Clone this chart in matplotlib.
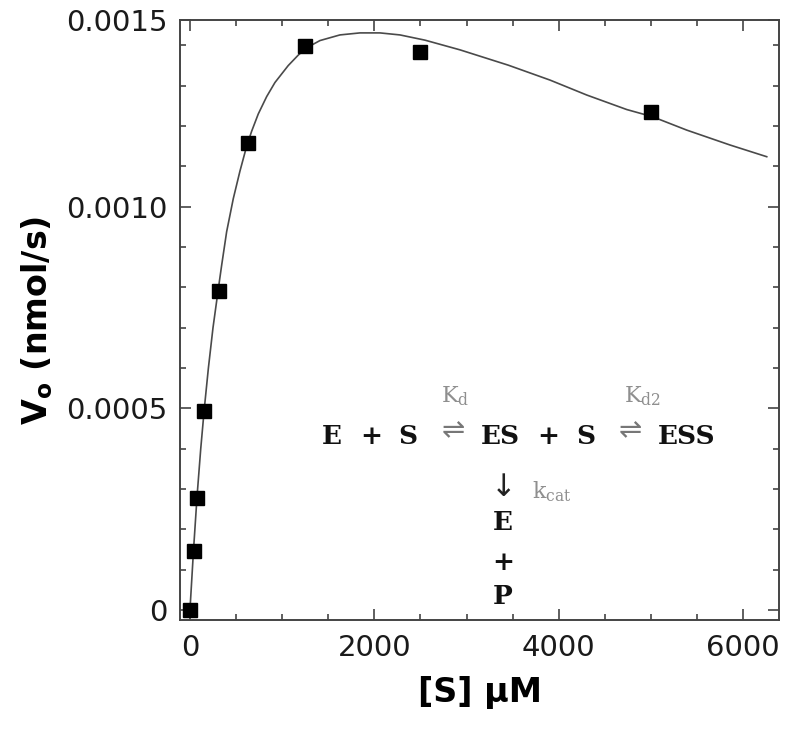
import numpy as np
import matplotlib
matplotlib.use("Agg")
import matplotlib.pyplot as plt
from matplotlib.ticker import MultipleLocator, FixedLocator

# ---- data ----
S_uM = [0, 39, 78, 156, 312, 625, 1250, 2500, 5000]
V0 = [0.0, 0.000146, 0.000278, 0.000493, 0.000792, 0.001159, 0.001398, 0.001383, 0.001234]

fit_S = [0, 39, 78, 117, 156, 200, 250, 307, 344, 398, 470, 542, 615, 669, 741,
         832, 922, 1066, 1175, 1266, 1410, 1627, 1844, 2061, 2278, 2550, 2929,
         3453, 3906, 4304, 4738, 5020, 5389, 5859, 6257]
fit_V = [0.0, 0.000150, 0.000285, 0.000400, 0.000500, 0.000600, 0.000700,
         0.000795, 0.000855, 0.000938, 0.001020, 0.001088, 0.001150, 0.001187,
         0.001230, 0.001273, 0.001308, 0.001350, 0.001376, 0.001394, 0.001412,
         0.001426, 0.001431, 0.001431, 0.001426, 0.001413, 0.001389, 0.001351,
         0.001314, 0.001277, 0.001241, 0.001223, 0.001190, 0.001153, 0.001124]

xticks = [0, 2000, 4000, 6000]
xtick_labels = ["0", "2000", "4000", "6000"]
ytick_labels = ["0", "0.0005", "0.0010", "0.0015"]

XMIN, XMAX = -108, 6390
YMIN, YTOP = -0.0000248, 0.001463

W, H = 800, 739
fig = plt.figure(figsize=(W / 100, H / 100), dpi=100)
ax = fig.add_axes([180 / W, 1 - 620 / H, (779 - 180) / W, (620 - 20) / H])

ax.plot(fit_S, fit_V, color="#4a4a4a", lw=1.2, zorder=2, solid_joinstyle="round")
ax.plot(S_uM, V0, ls="none", marker="s", ms=10, color="black", zorder=3)

ax.set_xlim(XMIN, XMAX)
ax.set_ylim(YMIN, YTOP)

ax.set_xticks(xticks)
ax.set_xticklabels(xtick_labels)
ax.xaxis.set_minor_locator(MultipleLocator(500))
ax.set_yticks([0, 0.0005, 0.0010, YTOP])
ax.set_yticklabels(ytick_labels)
ax.yaxis.set_minor_locator(FixedLocator([i * 0.0001 for i in range(0, 15)]))

for sp in ax.spines.values():
    sp.set_color("#444444")
    sp.set_linewidth(1.4)

ax.tick_params(which="both", direction="in", top=True, right=True,
               color="#444444", width=1.2)
ax.tick_params(which="major", length=8, labelsize=21, pad=9)
ax.tick_params(which="minor", length=4)
ax.tick_params(axis="x", which="major", pad=10)
for lab in ax.get_xticklabels() + ax.get_yticklabels():
    lab.set_color("#1a1a1a")

ax.set_xlabel("[S] μM", fontsize=24, fontweight="bold", labelpad=10)
ax.set_ylabel("V$_\\mathregular{o}$ (nmol/s)", fontsize=24, fontweight="bold", labelpad=8)

# ---- reaction scheme (figure pixel coords) ----
serif = ["DejaVu Serif", "DejaVu Sans"]
arrowf = ["DejaVu Sans"]


def ftext(px, py, s, **kw):
    fig.text(px / W, 1 - py / H, s, ha="center", va="center", **kw)


eq_kw = dict(family=serif, fontsize=19, fontweight="bold", color="#111111")
for px, s in [(332, "E"), (371, "+"), (408, "S"), (500, "ES"), (548, "+"),
              (586, "S"), (687, "ESS")]:
    ftext(px, 436, s, **eq_kw)

arr_kw = dict(family=arrowf, fontsize=20, color="#777777")
ftext(453, 430, "⇌", **arr_kw)
ftext(630, 430, "⇌", **arr_kw)

k_kw = dict(family=serif, fontsize=16, color="#8f8f8f")
ftext(455, 396, "K$_\\mathregular{d}$", **k_kw)
ftext(643, 396, "K$_\\mathregular{d2}$", **k_kw)
ftext(552, 492, "k$_\\mathregular{cat}$", **k_kw)
ftext(504, 488, "↓", family=arrowf, fontsize=22, color="#222222")

for py, s in [(523, "E"), (562, "+"), (597, "P")]:
    ftext(503, py, s, **eq_kw)

fig.savefig("out.png", dpi=100)
